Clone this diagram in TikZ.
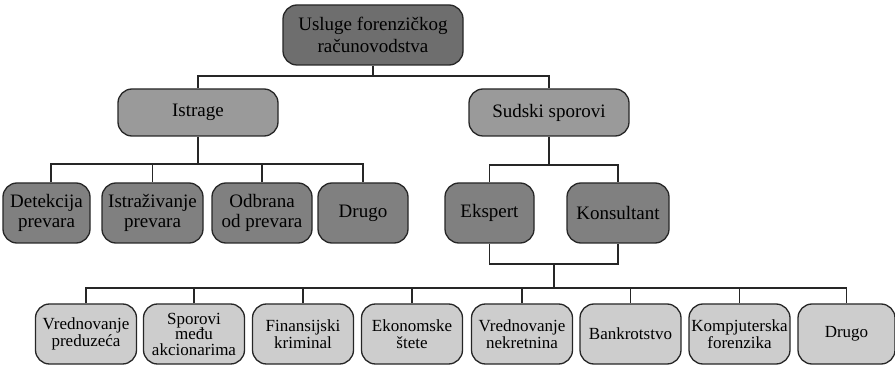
\documentclass[tikz,border=0pt]{standalone}
\usepackage{fontspec}
\setmainfont{Liberation Serif}
\newfontfamily\tnr{Liberation Serif}
\definecolor{cTop}{HTML}{6E6E6E}
\definecolor{cMid}{HTML}{9A9A9A}
\definecolor{cSub}{HTML}{808080}
\definecolor{cLeaf}{HTML}{CDCDCD}
\begin{document}
\begin{tikzpicture}[x=1pt,y=-1pt,
  box/.style={draw=black!85, line width=1.3pt, rounded corners=14pt, align=center, inner sep=1pt},
  topbox/.style={box, fill=cTop, minimum width=180pt, minimum height=60pt, font=\tnr\fontsize{19}{22}\selectfont},
  midbox/.style={box, fill=cMid, minimum width=160pt, minimum height=47pt, font=\tnr\fontsize{19}{22}\selectfont},
  subbox/.style={box, fill=cSub, minimum height=60pt, font=\tnr\fontsize{19}{20}\selectfont},
  leafbox/.style={box, fill=cLeaf, minimum width=101pt, minimum height=60pt, font=\tnr\fontsize{17}{17.5}\selectfont},
  conn/.style={draw=black!85, line width=1.1pt}]
\useasboundingbox (0,0) rectangle (895,366);
\node[topbox] (root) at (373,35) {Usluge forenzičkog\\računovodstva};
\node[midbox] (ist) at (198,112.5) {Istrage};
\node[midbox] (sud) at (549,112.5) {Sudski sporovi};
\node[subbox, minimum width=87pt] (det) at (46.5,213) {Detekcija\\prevara};
\node[subbox, minimum width=101pt] (istr) at (152.5,213) {Istraživanje\\prevara};
\node[subbox, minimum width=100pt] (odb) at (262,213) {Odbrana\\od prevara};
\node[subbox, minimum width=90pt] (dru) at (363,213) {Drugo};
\node[subbox, minimum width=89pt] (eks) at (489.5,213) {Ekspert};
\node[subbox, minimum width=102pt] (kon) at (618,213) {Konsultant};
\node[leafbox] (l1) at (86,334) {Vrednovanje\\preduzeća};
\node[leafbox, font=\tnr\fontsize{17}{15.5}\selectfont] (l2) at (194,334) {Sporovi\\među\\akcionarima};
\node[leafbox] (l3) at (303,334) {Finansijski\\kriminal};
\node[leafbox] (l4) at (412,334) {Ekonomske\\štete};
\node[leafbox] (l5) at (522,334) {Vrednovanje\\nekretnina};
\node[leafbox] (l6) at (630.5,334) {Bankrotstvo};
\node[leafbox] (l7) at (739.5,334) {Kompjuterska\\forenzika};
\node[leafbox, minimum width=97pt] (l8) at (846.5,334) {Drugo};
% connectors
\draw[conn] (root.south) -- (373,76) coordinate (r1);
\draw[conn] (ist.north) |- (r1) -| (sud.north);
\draw[conn] (ist.south) -- (198,164) coordinate (i1);
\draw[conn] (det.north -| 51,0) |- (i1) -| (dru.north);
\draw[conn] (istr.north) -- (istr.north |- i1);
\draw[conn] (odb.north) -- (odb.north |- i1);
\draw[conn] (sud.south) -- (549,165) coordinate (s1);
\draw[conn] (eks.north) |- (s1) -| (kon.north);
\draw[conn] (eks.south) |- (554,264) coordinate (e1) -| (kon.south);
\draw[conn] (e1) -- (554,288) coordinate (b1);
\draw[conn] (l1.north) |- (b1) -| (l8.north);
\foreach \n in {l2,l3,l4,l5,l6,l7} \draw[conn] (\n.north) -- (\n.north |- b1);
\end{tikzpicture}
\end{document}
